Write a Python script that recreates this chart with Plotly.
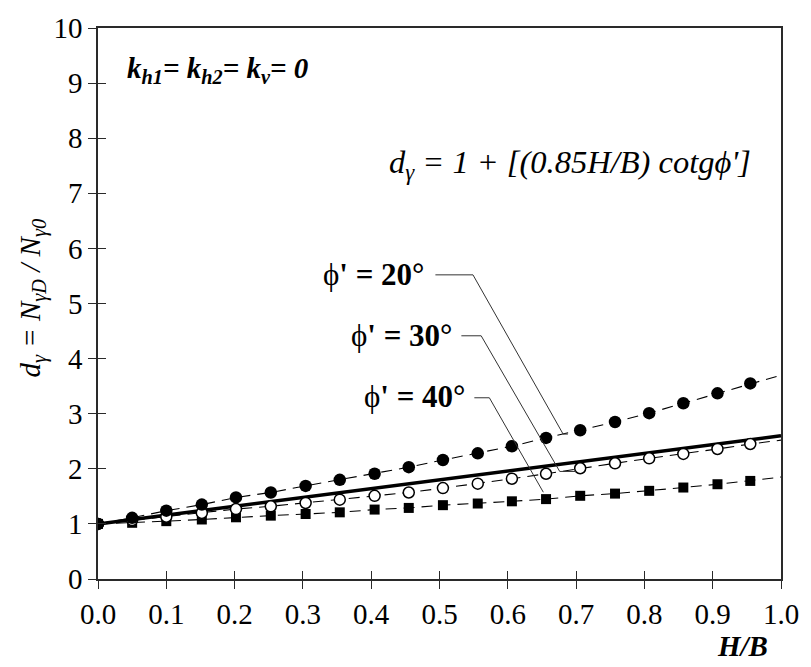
import plotly.graph_objects as go

# ---- data ----
hb = [0.0, 0.05, 0.10, 0.152, 0.202, 0.253, 0.304, 0.354, 0.405, 0.455,
      0.505, 0.556, 0.606, 0.656, 0.706, 0.757, 0.807, 0.857, 0.907, 0.955]
phi20 = [1.00, 1.11, 1.24, 1.35, 1.48, 1.57, 1.69, 1.80, 1.91, 2.03,
         2.16, 2.28, 2.41, 2.56, 2.70, 2.85, 3.01, 3.19, 3.37, 3.55]
phi30 = [1.00, 1.07, 1.13, 1.20, 1.27, 1.32, 1.38, 1.44, 1.51, 1.57,
         1.65, 1.73, 1.82, 1.91, 2.01, 2.10, 2.19, 2.27, 2.36, 2.45]
phi40 = [1.00, 1.02, 1.05, 1.08, 1.12, 1.15, 1.18, 1.21, 1.26, 1.29,
         1.34, 1.37, 1.41, 1.45, 1.51, 1.55, 1.60, 1.66, 1.72, 1.78]
# dashed trend lines extend to H/B = 1.0
hb_end = 1.0
phi20_end = 3.70
phi30_end = 2.52
phi40_end = 1.85
# formula line d = 1 + ...
formula_x = [0.0, 1.0]
formula_y = [1.0, 2.60]

x_ticks = [0.0, 0.1, 0.2, 0.3, 0.4, 0.5, 0.6, 0.7, 0.8, 0.9, 1.0]
x_ticklabels = ["0.0", "0.1", "0.2", "0.3", "0.4", "0.5", "0.6", "0.7", "0.8", "0.9", "1.0"]
y_ticks = list(range(0, 11))

FONT = "Liberation Serif"
BLACK = "#000000"
AX = "#2a2a2a"

fig = go.Figure()

dash = "11px,7px"
for ys, yend in [(phi20, phi20_end), (phi30, phi30_end), (phi40, phi40_end)]:
    fig.add_trace(go.Scatter(x=hb + [hb_end], y=ys + [yend], mode="lines",
                             line=dict(color=BLACK, width=1.1, dash=dash),
                             hoverinfo="skip", showlegend=False))

fig.add_trace(go.Scatter(x=formula_x, y=formula_y, mode="lines",
                         line=dict(color=BLACK, width=3.5), showlegend=False))

fig.add_trace(go.Scatter(x=hb, y=phi40, mode="markers",
                         marker=dict(symbol="square", size=10, color=BLACK),
                         showlegend=False))
fig.add_trace(go.Scatter(x=hb, y=phi30, mode="markers",
                         marker=dict(symbol="circle", size=11, color="white",
                                     line=dict(color=BLACK, width=1.5)),
                         showlegend=False))
fig.add_trace(go.Scatter(x=hb, y=phi20, mode="markers",
                         marker=dict(symbol="circle", size=12.5, color=BLACK),
                         showlegend=False))

# invisible trace to hold overlay axes (for crossing ticks)
fig.add_trace(go.Scatter(x=[], y=[], xaxis="x2", yaxis="y2", showlegend=False))

axis_common = dict(showgrid=False, zeroline=False, linecolor=AX, linewidth=1.5,
                   tickcolor=AX, tickwidth=1.2, ticklen=8,
                   tickfont=dict(family=FONT, size=29, color=BLACK))

fig.update_layout(
    width=811, height=667,
    margin=dict(l=98, r=17, t=22, b=88),
    paper_bgcolor="white", plot_bgcolor="white",
    showlegend=False,
    font=dict(family=FONT, color=BLACK),
    xaxis=dict(range=[0, 1], tickvals=x_ticks, ticktext=x_ticklabels,
               ticks="outside", showline=True, mirror=True,
               ticklabeloverflow="allow", **axis_common),
    yaxis=dict(range=[0, 10], tickvals=y_ticks, ticks="outside",
               showline=True, mirror=True, ticklabeloverflow="allow", **axis_common),
    xaxis2=dict(range=[0, 1], overlaying="x", anchor="y2", side="bottom",
                tickvals=x_ticks, ticks="inside", showticklabels=False,
                showline=False, showgrid=False, zeroline=False,
                tickcolor=AX, tickwidth=1.2, ticklen=8),
    yaxis2=dict(range=[0, 10], overlaying="y", anchor="x2", side="left",
                tickvals=y_ticks, ticks="inside", showticklabels=False,
                showline=False, showgrid=False, zeroline=False,
                tickcolor=AX, tickwidth=1.2, ticklen=8),
)

# leader lines
leaders = [
    ([0.494, 0.549, 0.681, 0.688], [5.52, 5.52, 2.63, 2.63]),
    ([0.532, 0.561, 0.676, 0.700], [4.414, 4.414, 1.952, 1.952]),
    ([0.551, 0.573, 0.652], [3.289, 3.289, 1.575]),
]
for lx, ly in leaders:
    path = "M " + " L ".join(f"{a},{b}" for a, b in zip(lx, ly))
    fig.add_shape(type="path", path=path, xref="x", yref="y",
                  line=dict(color="#333333", width=1))

ann_font = dict(family=FONT, size=31, color=BLACK)
fig.add_annotation(x=0.4816, y=5.52, xref="x", yref="y", xanchor="right", yanchor="middle",
                   text="ϕ<b>' = 20°</b>", showarrow=False, font=ann_font)
fig.add_annotation(x=0.523, y=4.414, xref="x", yref="y", xanchor="right", yanchor="middle",
                   text="ϕ<b>' = 30°</b>", showarrow=False, font=ann_font)
fig.add_annotation(x=0.542, y=3.307, xref="x", yref="y", xanchor="right", yanchor="middle",
                   text="ϕ<b>' = 40°</b>", showarrow=False, font=ann_font)

fig.add_annotation(x=0.039, y=9.23, xref="x", yref="y", xanchor="left", yanchor="middle",
                   text="<b><i>k<sub>h1</sub>= k<sub>h2</sub>= k<sub>v</sub>= 0</i></b>",
                   showarrow=False, font=dict(family=FONT, size=29, color=BLACK))
fig.add_annotation(x=0.4227, y=7.52, xref="x", yref="y", xanchor="left", yanchor="middle",
                   text="<i>d<sub>γ</sub> = 1 + [(0.85H/B) cotgϕ']</i>",
                   showarrow=False, font=dict(family=FONT, size=32.5, color=BLACK))

fig.add_annotation(x=0.984, y=-0.122, xref="paper", yref="paper", xanchor="right", yanchor="middle",
                   text="<b><i>H/B</i></b>", showarrow=False,
                   font=dict(family=FONT, size=29, color=BLACK))
fig.add_annotation(x=-0.0958, y=0.51, xref="paper", yref="paper", xanchor="center", yanchor="middle",
                   text="<i>d<sub>γ</sub> = N<sub>γD</sub> / N<sub>γ0</sub></i>", textangle=-90,
                   showarrow=False, font=dict(family=FONT, size=29, color=BLACK))

fig.write_html("out.html")
